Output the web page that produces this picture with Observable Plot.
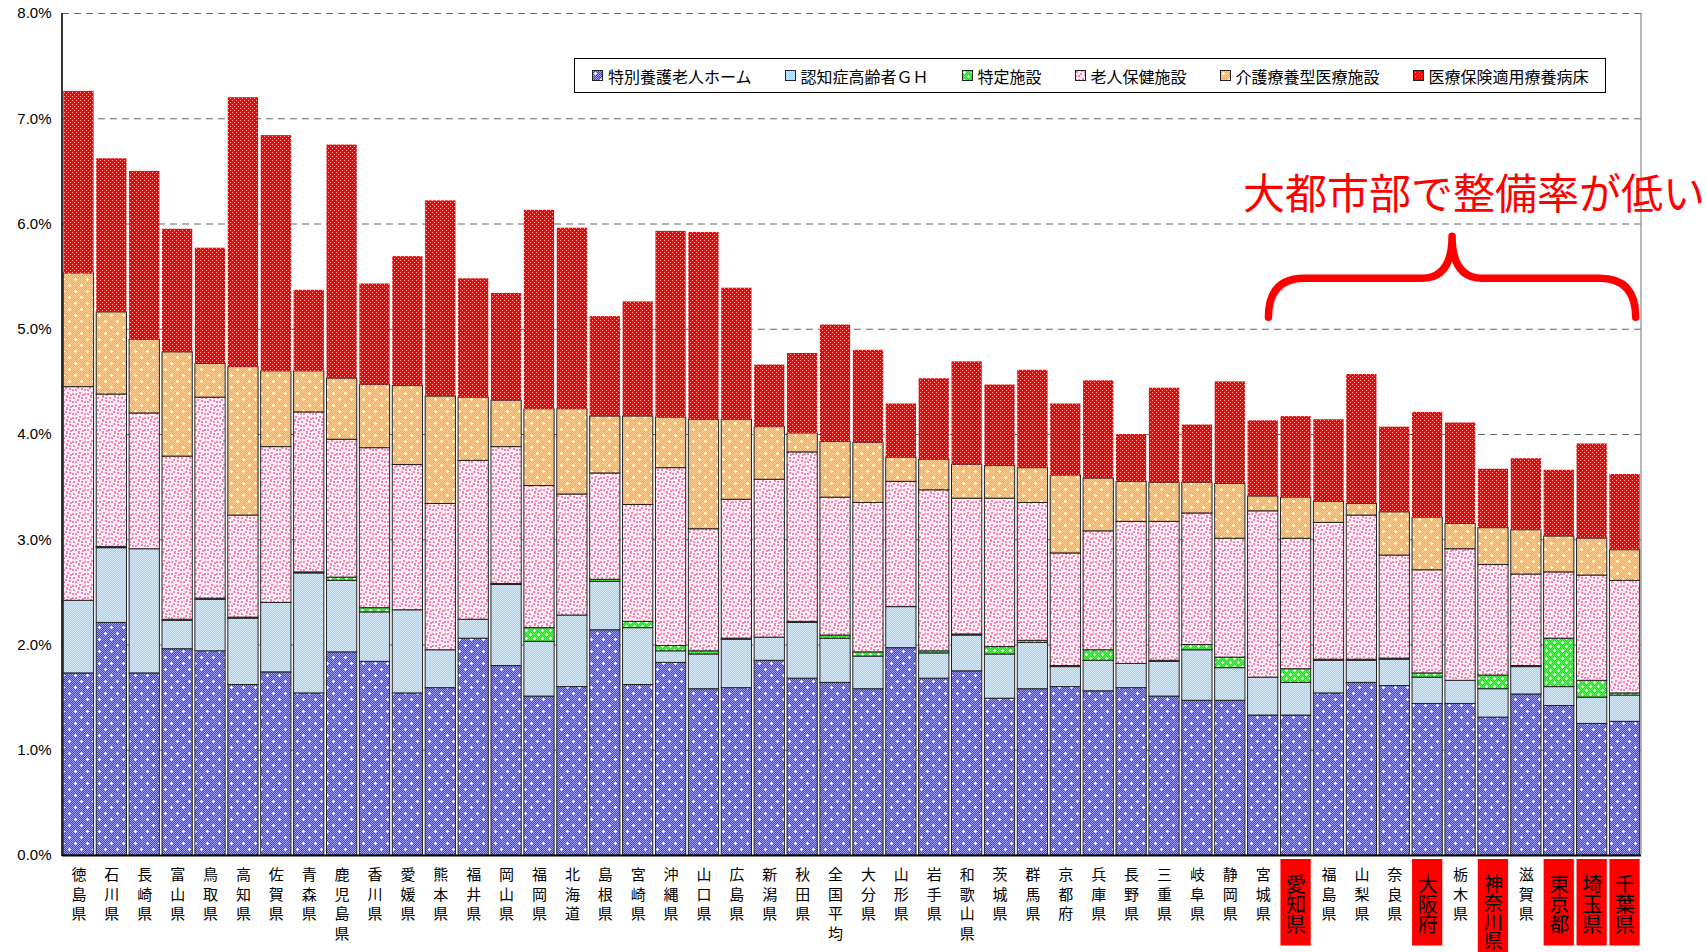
<!DOCTYPE html>
<html><head><meta charset="utf-8">
<script src="https://cdn.jsdelivr.net/npm/d3@7"></script>
<script src="https://cdn.jsdelivr.net/npm/@observablehq/plot@0.6"></script>
<style>
html,body{margin:0;padding:0;background:#fff;overflow:hidden;}
#chart{position:relative;width:1706px;height:952px;}
#legend{position:absolute;left:574px;top:58px;width:1032px;height:35px;border:1px solid #000;background:#fff;display:flex;align-items:center;padding-left:17px;box-sizing:border-box;font-family:'Noto Sans CJK JP',sans-serif;font-size:16px;color:#000;}
#legend .item{display:flex;align-items:center;margin-right:33px;white-space:nowrap;}
#legend svg{margin-right:5px;}
#note{position:absolute;left:1243px;top:170px;font-family:'Noto Sans CJK JP',sans-serif;font-size:42px;line-height:1;color:#ff0000;white-space:nowrap;}
</style></head><body>
<svg width="0" height="0" style="position:absolute"><defs id="pdefs"></defs></svg>
<div id="chart"></div>
<script>
const prefectures = ["徳島県","石川県","長崎県","富山県","鳥取県","高知県","佐賀県","青森県","鹿児島県","香川県","愛媛県","熊本県","福井県","岡山県","福岡県","北海道","島根県","宮崎県","沖縄県","山口県","広島県","新潟県","秋田県","全国平均","大分県","山形県","岩手県","和歌山県","茨城県","群馬県","京都府","兵庫県","長野県","三重県","岐阜県","静岡県","宮城県","愛知県","福島県","山梨県","奈良県","大阪府","栃木県","神奈川県","滋賀県","東京都","埼玉県","千葉県"];
const seriesNames = ["特別養護老人ホーム","認知症高齢者ＧＨ","特定施設","老人保健施設","介護療養型医療施設","医療保険適用療養病床"];
// values in percent of elderly population
const tokuyo  = [1.73,2.21,1.73,1.96,1.94,1.62,1.74,1.54,1.93,1.84,1.54,1.59,2.06,1.80,1.51,1.60,2.14,1.62,1.83,1.58,1.59,1.85,1.68,1.64,1.58,1.97,1.68,1.75,1.49,1.58,1.60,1.56,1.59,1.51,1.47,1.47,1.33,1.33,1.54,1.64,1.61,1.44,1.44,1.31,1.53,1.42,1.25,1.27];
const gh      = [0.69,0.71,1.18,0.27,0.49,0.63,0.66,1.14,0.68,0.47,0.79,0.36,0.18,0.77,0.52,0.68,0.46,0.54,0.11,0.33,0.46,0.22,0.53,0.42,0.31,0.39,0.24,0.34,0.42,0.44,0.19,0.29,0.23,0.33,0.48,0.31,0.36,0.31,0.31,0.21,0.25,0.25,0.22,0.27,0.26,0.18,0.25,0.25];
const tokutei = [0,0.01,0,0.01,0.01,0.01,0,0.01,0.03,0.04,0,0,0,0.01,0.13,0,0.02,0.06,0.05,0.03,0.01,0,0.01,0.03,0.04,0,0.02,0.01,0.07,0.02,0.01,0.10,0,0.01,0.05,0.10,0,0.13,0.01,0.01,0.01,0.04,0,0.13,0.01,0.46,0.16,0.02];
const roken   = [2.03,1.45,1.29,1.55,1.91,0.97,1.48,1.52,1.31,1.52,1.38,1.39,1.51,1.30,1.35,1.15,1.01,1.11,1.69,1.16,1.32,1.50,1.61,1.31,1.42,1.19,1.53,1.29,1.41,1.31,1.07,1.13,1.35,1.32,1.25,1.13,1.58,1.24,1.30,1.37,0.98,0.98,1.25,1.05,0.87,0.63,1.00,1.07];
const ryoyo   = [1.08,0.78,0.70,0.99,0.32,1.41,0.72,0.39,0.58,0.60,0.75,1.02,0.60,0.44,0.73,0.81,0.54,0.84,0.48,1.04,0.76,0.50,0.18,0.53,0.57,0.23,0.29,0.32,0.31,0.33,0.74,0.50,0.38,0.37,0.29,0.52,0.14,0.39,0.20,0.11,0.41,0.50,0.24,0.35,0.42,0.34,0.35,0.29];
const iryo    = [1.73,1.46,1.60,1.17,1.10,2.56,2.24,0.77,2.22,0.96,1.23,1.86,1.13,1.02,1.89,1.72,0.95,1.09,1.77,1.78,1.25,0.59,0.76,1.11,0.88,0.51,0.77,0.98,0.77,0.93,0.68,0.93,0.45,0.90,0.55,0.97,0.72,0.77,0.78,1.23,0.81,1.00,0.96,0.56,0.68,0.63,0.90,0.72];
const highlighted = ["愛知県","大阪府","神奈川県","東京都","埼玉県","千葉県"];
const yTicks = [0,0.01,0.02,0.03,0.04,0.05,0.06,0.07,0.08];
const annotation = "大都市部で整備率が低い";

const seriesValues = [tokuyo, gh, tokutei, roken, ryoyo, iryo];
const patternIds = ["p0","p1","p2","p3","p4","p5"];

// ---- patterns ----
const defs = document.getElementById("pdefs");
function mesh(id, base, op){
  return `<pattern id="${id}" patternUnits="userSpaceOnUse" width="2" height="2">
    <rect width="2" height="2" fill="${base}"/>
    <rect x="0" y="0" width="1" height="1" fill="#fff" fill-opacity="${op}"/>
    <rect x="1" y="1" width="1" height="1" fill="#fff" fill-opacity="${op}"/></pattern>`;
}
function sparkle(id, meshId, size){
  const h = size/4, k = 3*size/4;
  return `<pattern id="${id}" patternUnits="userSpaceOnUse" width="${size}" height="${size}">
    <rect width="${size}" height="${size}" fill="url(#${meshId})"/>
    <rect x="${h-1}" y="${h}" width="3" height="1" fill="#fff"/><rect x="${h}" y="${h-1}" width="1" height="3" fill="#fff"/>
    <rect x="${k-1}" y="${k}" width="3" height="1" fill="#fff"/><rect x="${k}" y="${k-1}" width="1" height="3" fill="#fff"/></pattern>`;
}
let pink = `<pattern id="p3" patternUnits="userSpaceOnUse" width="12" height="12"><rect width="12" height="12" fill="#fff0f6"/>`;
[[1,1],[6,0],[9,4],[3,5],[7,8],[0,9],[10,10],[5,3],[3,9],[9,1],[0,5],[6,11]].forEach(([x,y])=>{pink += `<rect x="${x}" y="${y}" width="2" height="2" fill="#ff80b4"/>`;});
pink += `</pattern>`;
defs.innerHTML =
  mesh("m0","#3c3cf0",0.5) + sparkle("p0","m0",12) +
  mesh("m1","#9ccfff",0.6) + `<pattern id="p1" patternUnits="userSpaceOnUse" width="2" height="2"><rect width="2" height="2" fill="url(#m1)"/></pattern>` +
  mesh("m2","#00f000",0.35) + sparkle("p2","m2",8) +
  pink +
  mesh("m4","#ffa83c",0.45) + sparkle("p4","m4",12) +
  `<pattern id="p5" patternUnits="userSpaceOnUse" width="4" height="4"><rect width="4" height="4" fill="#ff0000"/><rect x="0" y="0" width="1" height="1" fill="#fff" fill-opacity="0.7"/><rect x="2" y="2" width="1" height="1" fill="#fff" fill-opacity="0.7"/></pattern>`;

// ---- data rows ----
const rows = [];
prefectures.forEach((p, i) => {
  seriesNames.forEach((s, j) => {
    const v = seriesValues[j][i] / 100;
    if (v > 0) rows.push({pref: p, series: s, value: v, last: j === 5 ? 0 : 1});
  });
});

const normalLabels = prefectures.filter(p => !highlighted.includes(p));
const vert = s => [...s].join("\n");

const chart = Plot.plot({
  width: 1706, height: 952,
  marginLeft: 62, marginRight: 65, marginTop: 13, marginBottom: 97,
  style: {fontFamily: "'Noto Sans CJK JP', sans-serif", background: "white", overflow: "visible"},
  x: {domain: prefectures, paddingInner: 0.08, paddingOuter: 0.04, axis: null},
  y: {domain: [0, 0.08], label: null},
  color: {domain: seriesNames, range: patternIds.map(id => `url(#${id})`)},
  opacity: {domain: [0, 1], range: [0, 1]},
  marks: [
    Plot.ruleY(yTicks.filter(v => v > 0), {stroke: "#666", strokeDasharray: "7,5", strokeWidth: 1}),
    Plot.barY(rows, Plot.stackY({x: "pref", y: "value", z: "series", fill: "series", stroke: "#222", strokeWidth: 1, strokeOpacity: "last"})),
    Plot.axisY({ticks: yTicks, tickFormat: d3.format(".1%"), tickSize: 0, tickPadding: 11, fontSize: 15, fontFamily: "'Liberation Sans', sans-serif", label: null}),
    Plot.ruleY([0], {stroke: "#000", strokeWidth: 2}),
    Plot.text(normalLabels, {x: d => d, y: 0, text: vert, lineAnchor: "top", dy: 11, fontSize: 15, lineHeight: 1.3, fill: "#000"}),
    Plot.barY(highlighted, {x: d => d, y1: 0, y2: d => d === "神奈川県" ? -0.0095 : -0.0086, insetTop: 4, fill: "#ff0000"}),
    Plot.text(highlighted, {x: d => d, y: 0, text: d => d, textAnchor: "start", dy: 13, fontSize: d => d.length > 3 ? 19 : 20, fill: "#000"})
  ]
});
const host = document.getElementById("chart");
host.appendChild(chart);

// highlighted labels: one vertical text each
d3.select(chart).selectAll("text").each(function () {
  if (highlighted.includes(this.textContent)) {
    this.style.writingMode = "vertical-rl";
    this.style.textOrientation = "upright";
    this.setAttribute("text-anchor", "start");
    this.removeAttribute("dy");
  }
});

// frame lines and brace
const sx = chart.scale("x"), sy = chart.scale("y");
const svg = d3.select(chart);
const y0 = sy.apply(0), yTop = sy.apply(0.08);
const xL = 62, xR = 1706 - 65;
svg.append("line").attr("x1", xR).attr("x2", xR).attr("y1", yTop).attr("y2", y0).attr("stroke", "#888").attr("stroke-width", 1.2);
svg.append("line").attr("x1", xL).attr("x2", xL).attr("y1", yTop).attr("y2", y0 + 1).attr("stroke", "#000").attr("stroke-width", 1.6);

const bL = sx.apply("愛知県") - 12;
const bR = sx.apply("千葉県") + sx.bandwidth - 4;
const bM = (bL + bR) / 2;
const yE = sy.apply(0.0511), yH = sy.apply(0.0548), yP = sy.apply(0.0588);
const r = 36, rm = 30;
const path = `M${bL},${yE} Q${bL},${yH} ${bL + r},${yH} L${bM - rm},${yH} Q${bM},${yH} ${bM},${yP} Q${bM},${yH} ${bM + rm},${yH} L${bR - r},${yH} Q${bR},${yH} ${bR},${yE}`;
svg.append("path").attr("d", path).attr("fill", "none").attr("stroke", "#ff0000").attr("stroke-width", 7.5).attr("stroke-linecap", "round").attr("stroke-linejoin", "round");

// legend
const legend = document.createElement("div");
legend.id = "legend";
seriesNames.forEach((s, j) => {
  const it = document.createElement("div");
  it.className = "item";
  it.innerHTML = `<svg width="11" height="11"><rect x="0.5" y="0.5" width="10" height="10" fill="url(#${patternIds[j]})" stroke="#222" stroke-width="1"/></svg><span>${s}</span>`;
  legend.appendChild(it);
});
host.appendChild(legend);

const note = document.createElement("div");
note.id = "note";
note.textContent = annotation;
host.appendChild(note);
</script>
</body></html>
